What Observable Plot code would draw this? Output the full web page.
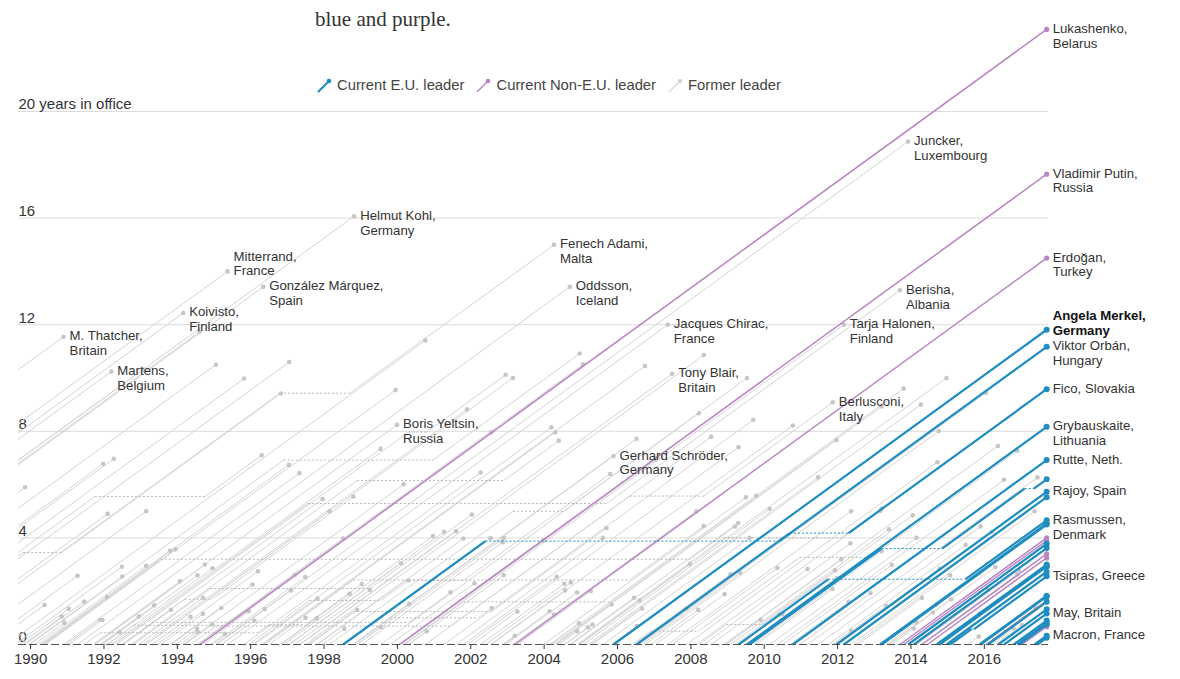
<!DOCTYPE html>
<html><head><meta charset="utf-8">
<script src="https://cdn.jsdelivr.net/npm/d3@7"></script>
<script src="https://cdn.jsdelivr.net/npm/@observablehq/plot@0.6"></script>
<style>
body{margin:0;background:#fff;font-family:"Liberation Sans",Arial,sans-serif;}
#wrap{position:relative;width:1180px;height:679px;overflow:hidden;}
#sub{position:absolute;left:315px;top:7px;font-family:"Liberation Serif",Georgia,serif;font-size:21px;color:#333;}
#legend{position:absolute;left:316px;top:76px;display:flex;gap:11px;font-size:14.8px;color:#444;line-height:18px;}
#legend span{display:flex;align-items:center;gap:5px;}
</style></head><body>
<div id="wrap"><div id="chart"></div><div id="sub">blue and purple.</div><div id="legend"></div></div>
<script>
// ---- DATA ----
const NOW = 2017.7;          // date of the snapshot (current leaders end here)
const X_END = 2017.75;       // right edge of the x domain
const xTicks = [1990,1992,1994,1996,1998,2000,2002,2004,2006,2008,2010,2012,2014,2016];
const yTicks = [0,4,8,12,16,20];

const formerLeaders = [
 ["Margaret Thatcher","Britain","1979.35-1990.9"],["John Major","Britain","1990.9-1997.33"],["Tony Blair","Britain","1997.33-2007.49"],["Gordon Brown","Britain","2007.49-2010.36"],["David Cameron","Britain","2010.36-2016.54"],
 ["François Mitterrand","France","1981.37-1995.37"],["Jacques Chirac","France","1995.37-2007.37"],["Nicolas Sarkozy","France","2007.37-2012.37"],["François Hollande","France","2012.37-2017.37"],
 ["Helmut Kohl","Germany","1982.75-1998.82"],["Gerhard Schröder","Germany","1998.82-2005.89"],
 ["Felipe González Márquez","Spain","1982.92-1996.34"],["José María Aznar","Spain","1996.34-2004.3"],["José Luis Rodríguez Zapatero","Spain","2004.3-2011.97"],
 ["Giulio Andreotti","Italy","1989.57-1992.49"],["Giuliano Amato","Italy","1992.49-1993.32,2000.32-2001.45"],["Carlo Azeglio Ciampi","Italy","1993.32-1994.36"],["Silvio Berlusconi","Italy","1994.36-1995.05,2001.45-2006.33,2008.35-2011.87"],["Lamberto Dini","Italy","1995.05-1996.38"],["Romano Prodi","Italy","1996.38-1998.8,2006.33-2008.35"],["Massimo D'Alema","Italy","1998.8-2000.32"],["Mario Monti","Italy","2011.87-2013.32"],["Enrico Letta","Italy","2013.32-2014.15"],["Matteo Renzi","Italy","2014.15-2016.95"],
 ["Ruud Lubbers","Netherlands","1982.87-1994.6"],["Wim Kok","Netherlands","1994.6-2002.56"],["Jan Peter Balkenende","Netherlands","2002.56-2010.78"],
 ["Wilfried Martens","Belgium","1981.96-1992.2"],["Jean-Luc Dehaene","Belgium","1992.2-1999.54"],["Guy Verhofstadt","Belgium","1999.54-2008.22"],["Yves Leterme","Belgium","2008.22-2008.97,2009.9-2011.93"],["Herman Van Rompuy","Belgium","2008.97-2009.9"],["Elio Di Rupo","Belgium","2011.93-2014.78"],
 ["Jacques Santer","Luxembourg","1984.55-1995.05"],["Jean-Claude Juncker","Luxembourg","1995.05-2013.92"],
 ["Charles Haughey","Ireland","1987.2-1992.1"],["Albert Reynolds","Ireland","1992.1-1994.96"],["John Bruton","Ireland","1994.96-1997.49"],["Bertie Ahern","Ireland","1997.49-2008.35"],["Brian Cowen","Ireland","2008.35-2011.18"],["Enda Kenny","Ireland","2011.18-2017.45"],
 ["Poul Schlüter","Denmark","1982.75-1993.07"],["Poul Nyrup Rasmussen","Denmark","1993.07-2001.9"],["Anders Fogh Rasmussen","Denmark","2001.9-2009.3"],["Helle Thorning-Schmidt","Denmark","2011.75-2015.49"],
 ["Ingvar Carlsson","Sweden","1986.2-1991.75,1994.75-1996.3"],["Carl Bildt","Sweden","1991.75-1994.75"],["Göran Persson","Sweden","1996.3-2006.75"],["Fredrik Reinfeldt","Sweden","2006.75-2014.76"],
 ["Mauno Koivisto","Finland","1981.72-1994.16"],["Martti Ahtisaari","Finland","1994.16-2000.17"],["Tarja Halonen","Finland","2000.17-2012.17"],
 ["Franz Vranitzky","Austria","1986.45-1997.05"],["Viktor Klima","Austria","1997.05-2000.1"],["Wolfgang Schüssel","Austria","2000.1-2007.03"],["Alfred Gusenbauer","Austria","2007.03-2008.92"],["Werner Faymann","Austria","2008.92-2016.37"],
 ["Aníbal Cavaco Silva","Portugal","1985.84-1995.82"],["António Guterres","Portugal","1995.82-2002.27"],["José Manuel Barroso","Portugal","2002.27-2004.55"],["Pedro Santana Lopes","Portugal","2004.55-2005.2"],["José Sócrates","Portugal","2005.2-2011.47"],["Pedro Passos Coelho","Portugal","2011.47-2015.9"],
 ["Andreas Papandreou","Greece","1993.8-1996.05"],["Konstantinos Mitsotakis","Greece","1990.28-1993.8"],["Costas Simitis","Greece","1996.05-2004.2"],["Kostas Karamanlis","Greece","2004.2-2009.78"],["George Papandreou","Greece","2009.78-2011.86"],["Lucas Papademos","Greece","2011.86-2012.37"],["Antonis Samaras","Greece","2012.47-2015.07"],
 ["George Vassiliou","Cyprus","1988.15-1993.15"],["Glafcos Clerides","Cyprus","1993.15-2003.15"],["Tassos Papadopoulos","Cyprus","2003.15-2008.15"],["Demetris Christofias","Cyprus","2008.15-2013.16"],
 ["Eddie Fenech Adami","Malta","1987.37-1996.8,1998.7-2004.27"],["Alfred Sant","Malta","1996.8-1998.7"],["Lawrence Gonzi","Malta","2004.27-2013.2"],
 ["Steingrímur Hermannsson","Iceland","1988.7-1991.28"],["Davíð Oddsson","Iceland","1991.28-2004.7"],["Halldór Ásgrímsson","Iceland","2004.7-2006.45"],["Geir Haarde","Iceland","2006.45-2009.08"],["Jóhanna Sigurðardóttir","Iceland","2009.08-2013.4"],["Sigmundur Davíð Gunnlaugsson","Iceland","2013.4-2016.3"],["Sigurður Ingi Jóhannsson","Iceland","2016.3-2017.03"],
 ["Gro Harlem Brundtland","Norway","1986.35-1989.8,1990.85-1996.82"],["Jan P. Syse","Norway","1989.8-1990.85"],["Thorbjørn Jagland","Norway","1996.82-1997.8"],["Kjell Magne Bondevik","Norway","1997.8-2000.2,2001.8-2005.8"],["Jens Stoltenberg","Norway","2000.2-2001.8,2005.8-2013.8"],
 ["Tadeusz Mazowiecki","Poland","1989.7-1991.04"],["Jan Krzysztof Bielecki","Poland","1991.04-1991.96"],["Jan Olszewski","Poland","1991.96-1992.43"],["Hanna Suchocka","Poland","1992.53-1993.83"],["Waldemar Pawlak","Poland","1993.83-1995.2"],["Józef Oleksy","Poland","1995.2-1996.1"],["Włodzimierz Cimoszewicz","Poland","1996.1-1997.82"],["Jerzy Buzek","Poland","1997.82-2001.8"],["Leszek Miller","Poland","2001.8-2004.34"],["Marek Belka","Poland","2004.34-2005.84"],["Kazimierz Marcinkiewicz","Poland","2005.84-2006.53"],["Jarosław Kaczyński","Poland","2006.53-2007.88"],["Donald Tusk","Poland","2007.88-2014.72"],["Ewa Kopacz","Poland","2014.72-2015.87"],
 ["Marián Čalfa","Czechoslovakia","1989.95-1992.5"],["Václav Klaus","Czech Republic","1992.5-1997.96"],["Josef Tošovský","Czech Republic","1997.96-1998.55"],["Miloš Zeman","Czech Republic","1998.55-2002.54"],["Vladimír Špidla","Czech Republic","2002.54-2004.57"],["Stanislav Gross","Czech Republic","2004.57-2005.32"],["Jiří Paroubek","Czech Republic","2005.32-2006.67"],["Mirek Topolánek","Czech Republic","2006.67-2009.35"],["Jan Fischer","Czech Republic","2009.35-2010.5"],["Petr Nečas","Czech Republic","2010.5-2013.48"],["Jiří Rusnok","Czech Republic","2013.48-2014.08"],
 ["Vladimír Mečiar","Slovakia","1992.5-1994.2,1994.95-1998.8"],["Jozef Moravčík","Slovakia","1994.2-1994.95"],["Mikuláš Dzurinda","Slovakia","1998.8-2006.52"],["Iveta Radičová","Slovakia","2010.7-2012.3"],
 ["Miklós Németh","Hungary","1988.9-1990.38"],["József Antall","Hungary","1990.38-1993.95"],["Péter Boross","Hungary","1993.95-1994.54"],["Gyula Horn","Hungary","1994.54-1998.52"],["Péter Medgyessy","Hungary","2002.4-2004.73"],["Ferenc Gyurcsány","Hungary","2004.73-2009.29"],["Gordon Bajnai","Hungary","2009.29-2010.41"],
 ["Janez Drnovšek","Slovenia","1992.33-2000.3,2000.8-2002.95"],["Andrej Bajuk","Slovenia","2000.3-2000.8"],["Anton Rop","Slovenia","2002.95-2004.9"],["Janez Janša","Slovenia","2004.9-2008.9,2012.1-2013.2"],["Borut Pahor","Slovenia","2008.9-2012.1"],["Alenka Bratušek","Slovenia","2013.2-2014.7"],
 ["Franjo Tuđman","Croatia","1990.4-1999.95"],["Ivica Račan","Croatia","2000.07-2003.98"],["Ivo Sanader","Croatia","2003.98-2009.5"],["Jadranka Kosor","Croatia","2009.5-2011.98"],["Zoran Milanović","Croatia","2011.98-2016.2"],["Tihomir Orešković","Croatia","2016.2-2016.8"],
 ["Ion Iliescu","Romania","1989.98-1996.9,2000.97-2004.97"],["Emil Constantinescu","Romania","1996.9-2000.97"],["Traian Băsescu","Romania","2004.97-2014.97"],
 ["Andrey Lukanov","Bulgaria","1990.1-1990.92"],["Dimitar Popov","Bulgaria","1990.97-1991.9"],["Filip Dimitrov","Bulgaria","1991.9-1992.95"],["Lyuben Berov","Bulgaria","1992.95-1994.7"],["Zhan Videnov","Bulgaria","1995.07-1997.1"],["Ivan Kostov","Bulgaria","1997.35-2001.6"],["Simeon Saxe-Coburg-Gotha","Bulgaria","2001.6-2005.6"],["Sergei Stanishev","Bulgaria","2005.6-2009.6"],["Plamen Oresharski","Bulgaria","2013.4-2014.6"],
 ["Edgar Savisaar","Estonia","1990.3-1992.08"],["Tiit Vähi","Estonia","1992.08-1992.8,1995.3-1997.2"],["Mart Laar","Estonia","1992.8-1994.9,1999.25-2002.03"],["Andres Tarand","Estonia","1994.9-1995.3"],["Mart Siimann","Estonia","1997.2-1999.25"],["Siim Kallas","Estonia","2002.03-2003.27"],["Juhan Parts","Estonia","2003.27-2005.27"],["Andrus Ansip","Estonia","2005.27-2014.27"],["Taavi Rõivas","Estonia","2014.27-2016.9"],
 ["Ivars Godmanis","Latvia","1990.35-1993.55,2007.97-2009.2"],["Valdis Birkavs","Latvia","1993.55-1994.7"],["Māris Gailis","Latvia","1994.7-1995.95"],["Andris Šķēle","Latvia","1995.95-1997.6,1999.55-2000.3"],["Guntars Krasts","Latvia","1997.6-1998.9"],["Vilis Krištopans","Latvia","1998.9-1999.55"],["Andris Bērziņš","Latvia","2000.3-2002.9"],["Einars Repše","Latvia","2002.9-2004.15"],["Indulis Emsis","Latvia","2004.15-2004.95"],["Aigars Kalvītis","Latvia","2004.95-2007.97"],["Valdis Dombrovskis","Latvia","2009.2-2014.05"],["Laimdota Straujuma","Latvia","2014.05-2016.1"],
 ["Vytautas Landsbergis","Lithuania","1990.2-1993.15"],["Algirdas Brazauskas","Lithuania","1993.15-1998.15"],["Valdas Adamkus","Lithuania","1998.15-2003.15,2004.53-2009.53"],["Rolandas Paksas","Lithuania","2003.15-2004.27"],
 ["Mikhail Gorbachev","Soviet Union","1985.2-1991.98"],["Boris Yeltsin","Russia","1991.75-1999.99"],
 ["Stanislav Shushkevich","Belarus","1991.7-1994.07"],["Vyacheslav Kebich","Belarus","1994.07-1994.55"],
 ["Leonid Kravchuk","Ukraine","1991.95-1994.55"],["Leonid Kuchma","Ukraine","1994.55-2005.06"],["Viktor Yushchenko","Ukraine","2005.06-2010.15"],["Viktor Yanukovych","Ukraine","2010.15-2014.15"],
 ["Mircea Snegur","Moldova","1990.3-1997.04"],["Petru Lucinschi","Moldova","1997.04-2001.27"],["Vladimir Voronin","Moldova","2001.27-2009.7"],["Vlad Filat","Moldova","2009.7-2013.2"],["Iurie Leancă","Moldova","2013.4-2015.1"],["Valeriu Streleț","Moldova","2015.55-2015.85"],
 ["Turgut Özal","Turkey","1983.95-1989.85"],["Yıldırım Akbulut","Turkey","1989.85-1991.46"],["Mesut Yılmaz","Turkey","1991.46-1991.9,1996.2-1996.5,1997.5-1999.03"],["Süleyman Demirel","Turkey","1991.9-1993.37"],["Tansu Çiller","Turkey","1993.45-1996.2"],["Necmettin Erbakan","Turkey","1996.5-1997.5"],["Bülent Ecevit","Turkey","1999.03-2002.87"],["Abdullah Gül","Turkey","2002.87-2003.2"],
 ["Ramiz Alia","Albania","1985.3-1992.27"],["Sali Berisha","Albania","1992.27-1997.56,2005.7-2013.7"],["Fatos Nano","Albania","1997.56-1998.8,2002.57-2005.7"],["Pandeli Majko","Albania","1998.8-1999.8,2002.2-2002.57"],["Ilir Meta","Albania","1999.8-2002.1"],
 ["Slobodan Milošević","Serbia","1989.35-2000.76"],["Vojislav Koštunica","Serbia","2000.76-2008.55"],["Boris Tadić","Serbia","2008.55-2012.35"],["Ivica Dačić","Serbia","2012.55-2014.3"],
 ["Branko Crvenkovski","Macedonia","1992.75-1998.9,2002.9-2004.4"],["Ljubčo Georgievski","Macedonia","1998.9-2002.9"],["Hari Kostov","Macedonia","2004.4-2004.9"],["Vlado Bučkovski","Macedonia","2004.95-2006.6"],["Nikola Gruevski","Macedonia","2006.6-2016.05"],["Emil Dimitriev","Macedonia","2016.05-2017.4"],
 ["Milo Đukanović","Montenegro","2006.4-2006.9,2008.2-2010.97,2012.9-2016.9"],["Željko Šturanović","Montenegro","2006.9-2008.2"],["Igor Lukšić","Montenegro","2010.97-2012.9"]
];

const currentEU = [
 ["Angela Merkel","Germany","2005.89-NOW"],["Viktor Orbán","Hungary","1998.52-2002.4,2010.41-NOW"],["Robert Fico","Slovakia","2006.52-2010.7,2012.3-NOW"],["Dalia Grybauskaitė","Lithuania","2009.53-NOW"],["Mark Rutte","Netherlands","2010.78-NOW"],["Boyko Borisov","Bulgaria","2009.6-2013.2,2014.85-2017.1,2017.35-NOW"],["Mariano Rajoy","Spain","2011.97-NOW"],["Sauli Niinistö","Finland","2012.17-NOW"],["Lars Løkke Rasmussen","Denmark","2009.3-2011.75,2015.49-NOW"],["Joseph Muscat","Malta","2013.2-NOW"],["Nicos Anastasiades","Cyprus","2013.16-NOW"],["Xavier Bettel","Luxembourg","2013.92-NOW"],["Bohuslav Sobotka","Czech Republic","2014.08-NOW"],["Miro Cerar","Slovenia","2014.7-NOW"],["Stefan Löfven","Sweden","2014.76-NOW"],["Charles Michel","Belgium","2014.78-NOW"],["Klaus Iohannis","Romania","2014.97-NOW"],["Alexis Tsipras","Greece","2015.07-2015.65,2015.72-NOW"],["Beata Szydło","Poland","2015.87-NOW"],["António Costa","Portugal","2015.9-NOW"],["Māris Kučinskis","Latvia","2016.1-NOW"],["Christian Kern","Austria","2016.38-NOW"],["Theresa May","Britain","2016.54-NOW"],["Andrej Plenković","Croatia","2016.8-NOW"],["Jüri Ratas","Estonia","2016.9-NOW"],["Paolo Gentiloni","Italy","2016.95-NOW"],["Emmanuel Macron","France","2017.37-NOW"],["Leo Varadkar","Ireland","2017.45-NOW"]
];

const currentNonEU = [
 ["Alexander Lukashenko","Belarus","1994.62-NOW"],["Vladimir Putin","Russia","2000.05-NOW"],["Recep Tayyip Erdoğan","Turkey","2003.2-NOW"],["Edi Rama","Albania","2013.7-NOW"],["Erna Solberg","Norway","2013.8-NOW"],["Aleksandar Vučić","Serbia","2014.3-NOW"],["Petro Poroshenko","Ukraine","2014.45-NOW"],["Pavel Filip","Moldova","2016.05-NOW"],["Duško Marković","Montenegro","2016.9-NOW"],["Bjarni Benediktsson","Iceland","2017.03-NOW"],["Zoran Zaev","Macedonia","2017.4-NOW"]
];

const labelled = [
 ["Margaret Thatcher","M. Thatcher,\nBritain"],["Wilfried Martens","Martens,\nBelgium"],["Mauno Koivisto","Koivisto,\nFinland"],["François Mitterrand","Mitterrand,\nFrance"],["Felipe González Márquez","González Márquez,\nSpain"],["Helmut Kohl","Helmut Kohl,\nGermany"],["Boris Yeltsin","Boris Yeltsin,\nRussia"],["Eddie Fenech Adami","Fenech Adami,\nMalta"],["Davíð Oddsson","Oddsson,\nIceland"],["Jacques Chirac","Jacques Chirac,\nFrance"],["Tony Blair","Tony Blair,\nBritain"],["Gerhard Schröder","Gerhard Schröder,\nGermany"],["Jean-Claude Juncker","Juncker,\nLuxembourg"],["Sali Berisha","Berisha,\nAlbania"],["Tarja Halonen","Tarja Halonen,\nFinland"],["Silvio Berlusconi","Berlusconi,\nItaly"],
 ["Alexander Lukashenko","Lukashenko,\nBelarus"],["Vladimir Putin","Vladimir Putin,\nRussia"],["Recep Tayyip Erdoğan","Erdoğan,\nTurkey"],["Angela Merkel","Angela Merkel,\nGermany"],["Viktor Orbán","Viktor Orbán,\nHungary"],["Robert Fico","Fico, Slovakia"],["Dalia Grybauskaitė","Grybauskaite,\nLithuania"],["Mark Rutte","Rutte, Neth."],["Mariano Rajoy","Rajoy, Spain"],["Lars Løkke Rasmussen","Rasmussen,\nDenmark"],["Alexis Tsipras","Tsipras, Greece"],["Theresa May","May, Britain"],["Emmanuel Macron","Macron, France"]
];

// ---- BUILD ----
const BLUE = "#1f8dbf", PURPLE = "#b985c2", GRAY = "#d4d4d4";
function build(rows, group){
  return rows.map(([name,country,terms])=>{
    const t = terms.split(",").map(s=>{const [a,b]=s.split("-");return [+a, b==="NOW"?NOW:+b];});
    let c = 0; const solid=[], gaps=[];
    t.forEach(([s,e],i)=>{
      solid.push({x1:s,y1:c,x2:e,y2:c+(e-s)});
      c += e-s;
      if (i<t.length-1) gaps.push({x1:e,y1:c,x2:t[i+1][0],y2:c});
    });
    return {name,country,group,solid,gaps,end:{x:t[t.length-1][1],y:c}};
  });
}
const former = build(formerLeaders,"former"), eu = build(currentEU,"eu"), non = build(currentNonEU,"non");
const all = [...former,...eu,...non];
const byName = new Map(all.map(d=>[d.name,d]));
const flat = (arr,k)=>arr.flatMap(d=>d[k]);
const aboveSet = new Set(["François Mitterrand","Angela Merkel"]);
const labRows = labelled.map(([n,text])=>({...byName.get(n).end,text,name:n}));

const plot = Plot.plot({
  width:1180, height:679,
  marginLeft:18, marginRight:132, marginTop:4.4, marginBottom:35,
  x:{domain:[1989.67, X_END], axis:null},
  y:{domain:[0,24], axis:null},
  style:{fontFamily:"'Liberation Sans', Arial, sans-serif", fontSize:"13px", color:"#333", background:"transparent"},
  marks:[
    Plot.ruleY(yTicks.filter(d=>d>0), {y:d=>d, stroke:"#dcdcdc", strokeWidth:1}),
    Plot.text(yTicks, {y:d=>d, text:d=>d===20?"20 years in office":String(d), frameAnchor:"left", textAnchor:"start", dy:-7, fontSize:15, fill:"#333"}),
    Plot.link(flat(former,"solid"), {x1:"x1",y1:"y1",x2:"x2",y2:"y2", stroke:GRAY, strokeWidth:1, clip:true}),
    Plot.link(flat(former,"gaps"), {x1:"x1",y1:"y1",x2:"x2",y2:"y2", stroke:"#b8b8b8", strokeWidth:1, strokeDasharray:"2,2", clip:true}),
    Plot.dot(former.map(d=>d.end), {x:"x",y:"y", r:2.3, fill:"#c6c6c6", clip:true}),
    Plot.link(flat(non,"solid"), {x1:"x1",y1:"y1",x2:"x2",y2:"y2", stroke:PURPLE, strokeWidth:1.5}),
    Plot.link(flat(non,"gaps"), {x1:"x1",y1:"y1",x2:"x2",y2:"y2", stroke:PURPLE, strokeWidth:1, strokeDasharray:"2,2"}),
    Plot.dot(non.map(d=>d.end), {x:"x",y:"y", r:2.6, fill:PURPLE}),
    Plot.link(flat(eu,"solid"), {x1:"x1",y1:"y1",x2:"x2",y2:"y2", stroke:BLUE, strokeWidth:2.2}),
    Plot.link(flat(eu,"gaps"), {x1:"x1",y1:"y1",x2:"x2",y2:"y2", stroke:BLUE, strokeWidth:1, strokeDasharray:"2,2"}),
    Plot.dot(eu.map(d=>d.end), {x:"x",y:"y", r:3, fill:BLUE}),
    Plot.ruleY([0], {stroke:"#555", strokeWidth:1.2, strokeDasharray:"8,3"}),
    Plot.axisX({ticks:xTicks, tickFormat:d=>String(d), tickSize:5, tickPadding:4, fontSize:15, color:"#333"}),
    Plot.text(labRows.filter(d=>!aboveSet.has(d.name)), {x:"x", y:"y", text:"text", textAnchor:"start", lineAnchor:"top", dx:6, dy:-7, lineHeight:1.12, fontSize:13.2, fill:"#333"}),
    Plot.text(labRows.filter(d=>d.name==="François Mitterrand"), {x:"x", y:"y", text:"text", textAnchor:"start", lineAnchor:"bottom", dx:6, dy:4, lineHeight:1.12, fontSize:13.2, fill:"#333"}),
    Plot.text(labRows.filter(d=>d.name==="Angela Merkel"), {x:"x", y:"y", text:"text", textAnchor:"start", lineAnchor:"bottom", dx:6, dy:5, lineHeight:1.12, fontSize:13.2, fontWeight:"bold", fill:"#111"})
  ]
});
document.getElementById("chart").appendChild(plot);

// legend
const legendItems = [["Current E.U. leader",BLUE,2.2],["Current Non-E.U. leader",PURPLE,1.5],["Former leader","#d5d5d5",1.2]];
const lg = document.getElementById("legend");
legendItems.forEach(([label,color,w])=>{
  const s = document.createElement("span");
  s.innerHTML = `<svg width="16" height="16"><line x1="2" y1="15" x2="13" y2="4" stroke="${color}" stroke-width="${w}"/><circle cx="13" cy="4" r="2.3" fill="${color}"/></svg>${label}`;
  lg.appendChild(s);
});
</script>
</body></html>
